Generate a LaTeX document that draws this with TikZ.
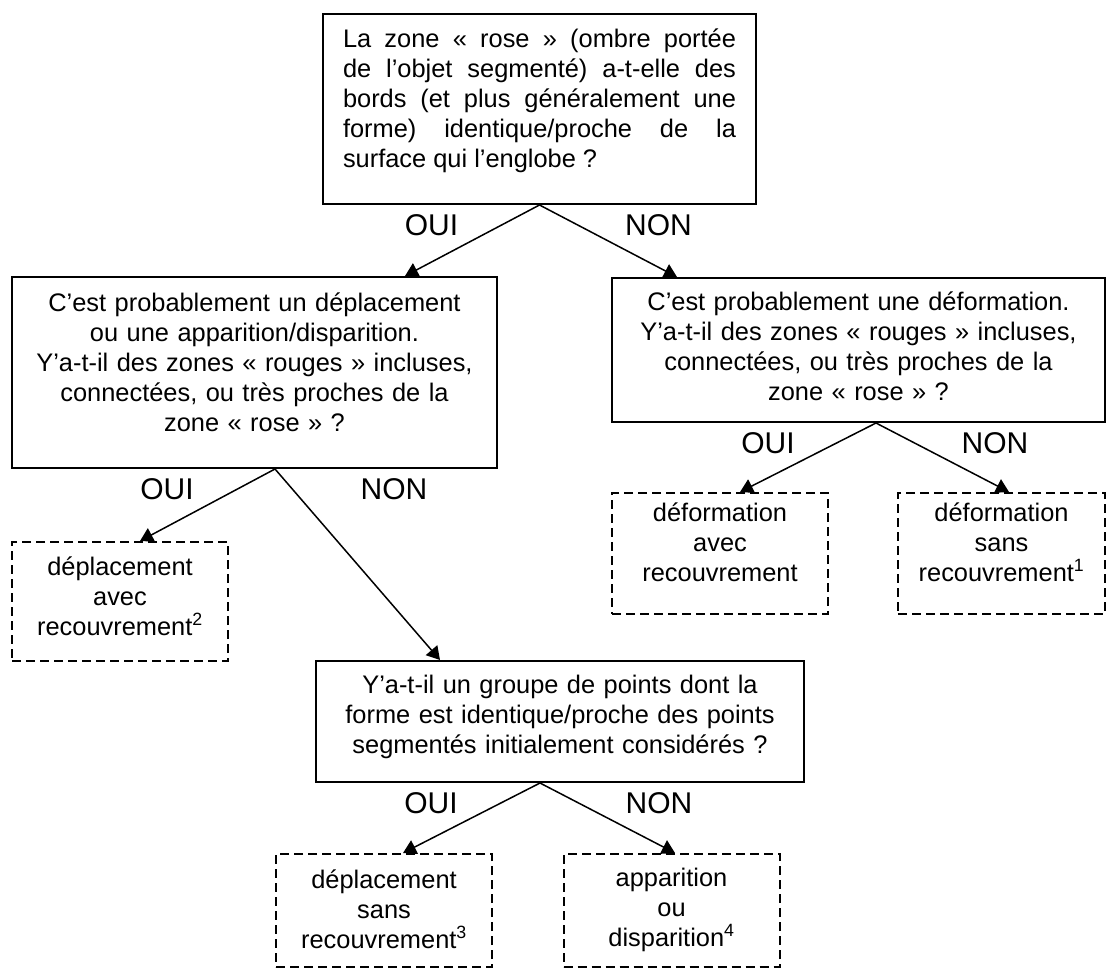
\documentclass[tikz,border=0pt]{standalone}
\usepackage{fontspec}
\setmainfont{Liberation Sans}
\usetikzlibrary{arrows.meta}

\begin{document}
\begin{tikzpicture}[x=1pt,y=1pt,
  qbox/.style={draw,line width=2pt,inner sep=0pt,align=center,anchor=north,
               font=\fontsize{25.4}{30}\selectfont},
  ans/.style={qbox,dash pattern=on 9pt off 5pt,minimum width=216,text width=196pt},
  lbl/.style={inner sep=0pt,font=\fontsize{30}{36}\selectfont},
  a/.style={-{Triangle[length=13pt,width=15pt]},line width=1.5pt}]
\useasboundingbox (0,0) rectangle (1107,-968);

% ------------------------------ questions ---------------------------------
\node[qbox,align=justify,minimum width=433,text width=393pt,
      text height=34pt,text depth=156pt] (zone) at (539.5,-13)
  {La zone «~rose~» (ombre portée\linebreak
   de l’objet segmenté) a-t-elle des\linebreak
   bords (et plus généralement une\linebreak
   forme) identique/proche de la\linebreak
   surface qui l’englobe~?};
\node[qbox,minimum width=485,text width=445pt,
      text height=34pt,text depth=157pt] (depl) at (254.5,-276)
  {C’est probablement un déplacement\\
   ou une apparition/disparition.\\
   Y’a-t-il des zones «~rouges~» incluses,\\
   connectées, ou très proches de la\\
   zone «~rose~»~?};
\node[qbox,minimum width=493,text width=453pt,
      text height=32pt,text depth=112pt] (defo) at (858.5,-277)
  {C’est probablement une déformation.\\
   Y’a-t-il des zones «~rouges~» incluses,\\
   connectées, ou très proches de la\\
   zone «~rose~»~?};
\node[qbox,minimum width=488,text width=448pt,
      text height=32pt,text depth=89pt] (groupe) at (560,-660)
  {Y’a-t-il un groupe de points dont la\\
   forme est identique/proche des points\\
   segmentés initialement considérés~?};

% ------------------------------- answers ----------------------------------
\node[ans,text height=33pt,text depth=86pt] (deplrec) at (120,-541)
  {déplacement\\avec\\recouvrement\textsuperscript{2}};
\node[ans,text height=28pt,text depth=93pt] (deforec) at (720,-492)
  {déformation\\avec\\recouvrement};
\node[ans,minimum width=207,text height=28pt,text depth=93pt] (defosans) at (1001.5,-492)
  {déformation\\sans\\recouvrement\textsuperscript{1}};
\node[ans,text height=34pt,text depth=79pt] (deplsans) at (384,-853)
  {déplacement\\sans\\recouvrement\textsuperscript{3}};
\node[ans,text height=32pt,text depth=81pt] (appar) at (671.5,-853)
  {apparition\\ou\\disparition\textsuperscript{4}};

% ------------------------------- branches ---------------------------------
\draw[a] (zone.south) -- ([xshift=150.5pt]depl.north);
\draw[a] (zone.south) -- ([xshift=-181.5pt]defo.north);
\draw[a] ([xshift=20.5pt]depl.south) -- ([xshift=20pt]deplrec.north);
\draw[a] ([xshift=20.5pt]depl.south) -- ([xshift=-120pt]groupe.north);
\draw[a] ([xshift=17.5pt]defo.south) -- ([xshift=20pt]deforec.north);
\draw[a] ([xshift=17.5pt]defo.south) -- ([xshift=7.5pt]defosans.north);
\draw[a] ([xshift=-20pt]groupe.south) -- ([xshift=19pt]deplsans.north);
\draw[a] ([xshift=-20pt]groupe.south) -- ([xshift=3.5pt]appar.north);

% OUI / NON under each question
\node[lbl] (oui1) at ([xshift=-108pt,yshift=-20pt]zone.south) {OUI};
\node[lbl] (non1) at ([xshift=119pt,yshift=-20pt]zone.south) {NON};
\node[lbl] (oui2) at ([xshift=-87.5pt,yshift=-20pt]depl.south) {OUI};
\node[lbl] (non2) at ([xshift=139.5pt,yshift=-20pt]depl.south) {NON};
\node[lbl] (oui3) at ([xshift=-90.5pt,yshift=-20pt]defo.south) {OUI};
\node[lbl] (non3) at ([xshift=136.5pt,yshift=-20pt]defo.south) {NON};
\node[lbl] (oui4) at ([xshift=-129pt,yshift=-20pt]groupe.south) {OUI};
\node[lbl] (non4) at ([xshift=99pt,yshift=-20pt]groupe.south) {NON};
\end{tikzpicture}
\end{document}
